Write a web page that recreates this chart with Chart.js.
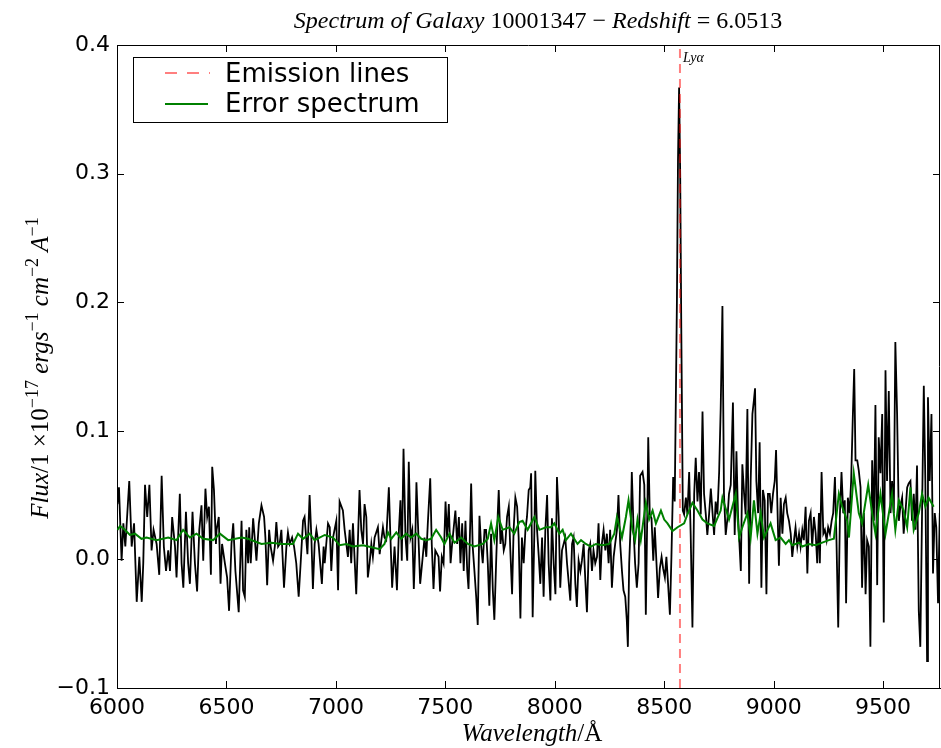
<!DOCTYPE html>
<html>
<head>
<meta charset="utf-8">
<script src="https://cdn.jsdelivr.net/npm/chart.js@4.4.1/dist/chart.umd.min.js"></script>
<style>
  html, body { margin: 0; padding: 0; background: #fff; }
</style>
</head>
<body>
<canvas id="spectrum" width="941" height="748"></canvas>
<script>
const wavelength = [
  6002,6009,6021,6029,6038,6056,6067,6078,6090,6102,6113,6120,6128,6138,6148,6158,6167,6181,6193,6204,
  6214,6224,6234,6242,6252,6265,6272,6287,6295,6303,6315,6325,6333,6345,6356,6366,6376,6386,6394,6404,
  6412,6420,6429,6435,6443,6452,
  6455,6465,6473,6480,6493,6503,6512,6523,6531,6541,6556,6569,6576,6584,6591,6599,6604,6611,6622,6629,
  6637,6648,6660,6672,6678,6686,6695,6702,6713,6721,6728,6736,6743,6751,6763,6774,6781,6789,6800,6809,
  6819,6830,6839,6850,6857,6870,6880,6888,6895,6903,6911,6921,6936,6944,
  6949,6956,6964,6972,6979,6987,7002,7010,7017,7032,7040,7055,7063,7070,7078,7093,7108,7116,7124,7131,
  7139,7146,7154,7162,7169,7177,7192,7200,7215,7222,7230,7242,7248,7257,7268,7279,7288,7295,7301,7309,
  7318,7326,7333,7341,7349,7356,7362,7368,7376,7385,7394,7405,
  7413,7420,7431,7438,7446,7454,7469,7476,7484,7492,7501,7508,7516,7524,7531,7546,7554,7562,7569,7577,
  7584,7592,7600,7606,7613,7618,7625,7633,7641,7648,7656,7663,7671,7679,7686,7694,7701,7709,7717,7724,
  7732,7739,7744,7752,7759,7767,7774,7782,7790,7797,7805,7812,7820,7828,7835,7843,7850,7858,7866,7873,
  7881,7888,
  7892,7899,7907,7911,7919,7927,7934,7942,7949,7957,7965,7972,7980,7987,7995,8003,8010,8018,8025,8033,
  8048,8056,8071,8079,8086,8094,8101,8109,8117,8124,8132,8139,8147,8155,8162,8170,8177,8185,8193,8200,
  8208,8215,8223,8231,8238,8246,8253,8261,8269,8276,8284,8291,8299,8307,8314,8322,8329,8334,8340,8348,
  8352,8360,8367,8375,8383,
  8390,8401,8409,8416,8424,8427,8434,8442,8450,8457,8465,8472,8480,8488,8495,8503,8510,8518,8526,8533,
  8541,8548,8558,8563,8568,8573,8578,8585,8591,8599,8606,8614,8621,8629,8637,8644,8652,8659,8667,8675,
  8682,8690,8697,8705,8713,8720,8728,8735,8743,8751,8758,8766,8773,8781,8789,8796,8804,8814,8822,8830,
  8837,
  8850,8857,8865,8872,8880,8888,8895,8903,8910,8915,8921,8929,8936,8944,8951,8959,8967,8974,8982,8989,
  8997,9005,9011,9018,9024,9032,9040,9047,9055,9062,9070,9078,9085,9093,9100,9108,9116,9123,9131,9138,
  9146,9154,9161,9169,9176,9184,9192,9199,9207,9211,9219,9227,9234,9242,9249,9257,9265,9272,9280,9287,
  9295,9303,9310,
  9318,9325,9331,9339,9347,9354,9362,9368,9374,9382,9389,9397,9404,9412,9420,9427,9435,9442,9450,9458,
  9465,9473,9480,9488,9496,9503,9511,9518,9526,9534,9541,9549,9556,9564,9572,9579,9587,9594,9602,9610,
  9617,9625,9632,9640,9648,9655,9663,9670,9678,9686,9693,9701,9705,9713,9721,9728,9736,9743,9751,9759
];
const flux = [
  0.043,0.056,-0.001,0.028,0.010,0.061,0.010,0.028,-0.033,0.002,-0.033,-0.003,0.058,0.033,0.058,0.007,0.023,0.012,-0.012,0.065,
  0.010,-0.009,0.007,-0.009,0.033,0.010,-0.014,0.051,-0.003,-0.022,0.037,-0.003,-0.019,0.037,-0.003,-0.025,0.023,0.042,-0.001,0.055,
  0.033,0.041,-0.012,0.072,0.054,0.012,
  0.023,0.033,-0.019,0.012,-0.003,-0.014,-0.040,0.012,0.028,-0.009,-0.041,0.030,-0.024,-0.029,0.023,-0.003,0.025,-0.003,0.032,0.017,
  -0.001,0.028,0.042,0.033,0.017,-0.020,0.023,0.010,-0.001,0.010,0.029,0.010,0.012,0.023,-0.022,0.010,0.021,0.012,0.017,0.010,
  -0.003,-0.029,-0.003,0.030,0.033,0.004,0.050,0.017,-0.023,0.012,0.023,0.012,-0.019,0.010,
  -0.003,0.012,0.028,0.025,-0.009,0.017,0.030,-0.024,0.045,0.038,0.023,0.002,0.023,-0.003,0.028,-0.027,0.054,0.023,0.012,0.043,
  0.033,-0.014,-0.003,0.012,0.002,0.017,0.025,0.004,0.025,0.017,0.015,0.056,0.023,-0.022,0.010,-0.024,0.023,0.046,-0.001,0.086,
  0.017,-0.001,0.076,0.017,0.023,-0.023,0.007,0.060,0.023,-0.019,-0.003,0.017,
  0.002,0.028,0.063,0.012,-0.023,0.007,0.002,-0.025,0.002,-0.003,0.045,0.017,0.043,-0.003,0.012,0.038,0.012,0.033,-0.003,0.028,
  -0.009,0.030,-0.009,-0.023,0.023,0.059,0.010,-0.009,-0.029,-0.051,0.034,0.012,-0.003,0.023,0.023,-0.003,-0.036,0.020,-0.024,-0.047,
  -0.003,0.033,0.054,0.012,0.023,0.007,0.012,0.033,0.041,0.007,-0.027,0.023,0.048,0.041,0.017,-0.046,0.017,-0.003,0.023,0.033,
  0.054,0.056,
  0.067,-0.045,0.023,0.069,0.023,0.002,-0.019,0.017,-0.029,0.023,0.050,-0.003,-0.032,0.032,-0.003,-0.027,0.064,0.033,-0.022,0.007,
  0.017,-0.003,-0.032,0.012,0.017,-0.019,-0.037,-0.001,-0.009,-0.001,0.012,-0.014,-0.041,0.007,0.012,-0.009,0.007,-0.003,0.002,0.028,
  -0.016,0.012,0.023,0.007,0.020,-0.003,0.023,-0.022,0.002,0.012,0.023,0.050,0.012,-0.009,-0.024,-0.029,-0.047,-0.068,-0.003,0.033,
  0.068,0.023,-0.003,-0.022,-0.003,
  0.065,0.068,0.058,-0.043,0.051,0.095,0.035,0.032,-0.001,0.025,-0.004,-0.030,-0.007,0.002,-0.007,-0.014,0.002,-0.020,-0.043,0.002,
  0.064,0.045,0.200,0.310,0.367,0.300,0.180,0.038,0.035,0.048,0.035,0.068,0.019,-0.053,0.051,0.079,0.045,0.068,0.035,0.115,
  0.051,0.035,0.019,0.035,0.055,0.038,0.019,0.045,0.035,0.068,0.117,0.197,0.051,0.019,0.032,0.051,0.058,0.122,0.019,0.084,
  0.035,
  -0.009,0.074,0.051,0.035,0.117,-0.019,0.061,0.113,0.124,0.133,0.061,0.036,0.091,-0.022,0.054,0.046,-0.027,0.051,0.051,0.036,
  0.051,0.061,0.085,0.036,-0.005,0.048,0.020,0.043,0.048,0.036,0.030,0.020,0.002,0.015,0.025,0.010,0.020,0.010,0.023,0.015,
  0.041,-0.011,0.030,0.036,0.010,0.033,0.020,-0.003,0.036,-0.003,0.068,0.020,0.023,0.015,0.025,0.020,0.030,0.036,0.064,0.015,
  -0.053,0.036,0.068,
  0.036,0.046,-0.034,0.048,0.036,0.061,0.113,0.148,0.077,0.077,0.069,0.056,-0.022,0.036,-0.027,0.015,0.010,-0.068,0.077,0.030,
  0.120,-0.020,0.095,0.067,0.113,-0.049,0.147,0.061,0.131,0.036,0.061,0.036,0.169,0.113,0.030,0.041,0.048,0.020,0.036,0.056,
  0.059,0.061,0.030,0.051,0.023,0.073,-0.040,-0.068,0.036,0.135,0.061,-0.079,0.126,0.061,0.113,-0.011,0.036,0.025,-0.034,0.036
];

// error spectrum
const errWavelength = [
  6002,6014,6036,6059,6082,6112,6135,6181,6234,6272,6302,6333,6363,6394,6439,6470,
  6508,6569,6599,6660,6705,6751,6804,6827,6850,6880,6903,6949,
  6987,7017,7048,7078,7124,7200,7222,7238,7253,7276,7298,7321,7344,7367,7390,7412,
  7435,7458,7481,7496,7519,7542,7572,7603,7633,7671,7694,7709,7724,7742,7762,7793,7815,7838,7853,7876,
  7907,7930,7960,7983,7998,8021,8036,8051,8074,8104,8120,8142,8165,8188,8218,8249,8272,8284,8307,8325,8337,8355,8367,
  8378,8393,8416,8431,8447,8462,8485,8500,8515,8538,8561,8591,8606,8629,8652,8675,8697,8728,8758,8766,8796,8827,
  8842,8857,8880,8895,8910,8926,8941,8956,8986,9009,9032,9055,9070,9085,9116,9131,9161,9192,9222,9252,9275,
  9298,9313,9336,9344,9366,9389,9404,9432,9450,9465,9488,9511,9541,9556,9572,9594,9610,9625,9640,9663,9678,9693,9708,9731
];
const errFlux = [
  0.023,0.026,0.023,0.019,0.020,0.016,0.017,0.015,0.017,0.015,0.023,0.017,0.020,0.016,0.015,0.020,
  0.015,0.017,0.016,0.012,0.013,0.012,0.012,0.020,0.016,0.020,0.015,0.019,
  0.017,0.011,0.012,0.010,0.011,0.008,0.012,0.021,0.016,0.021,0.016,0.020,0.017,0.020,0.016,0.015,
  0.016,0.023,0.017,0.012,0.020,0.013,0.017,0.012,0.010,0.012,0.016,0.028,0.015,0.033,0.023,0.025,0.020,0.029,0.030,0.023,
  0.033,0.023,0.025,0.025,0.028,0.020,0.023,0.015,0.020,0.012,0.015,0.012,0.010,0.012,0.011,0.012,0.020,0.033,0.017,0.033,0.046,0.023,0.015,
  0.031,0.015,0.044,0.031,0.038,0.028,0.038,0.031,0.028,0.022,0.025,0.028,0.035,0.044,0.038,0.031,0.028,0.026,0.038,0.048,0.031,0.051,
  0.017,0.025,0.036,0.017,0.046,0.020,0.036,0.017,0.028,0.015,0.017,0.012,0.015,0.011,0.013,0.010,0.012,0.011,0.013,0.015,0.016,
  0.051,0.041,0.030,0.017,0.067,0.036,0.028,0.058,0.036,0.020,0.051,0.020,0.051,0.023,0.046,0.038,0.025,0.056,0.023,0.036,0.051,0.041,0.048,0.041
];

const lineNames = ["Lyα"];
const lineWavelength = [8572];

const xTicks = [6000, 6500, 7000, 7500, 8000, 8500, 9000, 9500];
const yTicks = [-0.1, 0.0, 0.1, 0.2, 0.3, 0.4];

const pts = (xs, ys) => xs.map((x, i) => ({ x, y: ys[i] }));

// text runs: [text, style] where style is "i" (math italic), "r" (roman) or "sup"
function drawRuns(ctx, runs, x, y, size) {
  const fontFor = s => s === "i" ? `italic ${size}px "Liberation Serif"`
    : s === "sup" ? `${Math.round(size * 0.72)}px "Liberation Serif"`
    : `${size}px "Liberation Serif"`;
  let total = 0;
  runs.forEach(([t, s]) => { ctx.font = fontFor(s); total += ctx.measureText(t).width; });
  let cx = x - total / 2;
  ctx.textAlign = "left";
  ctx.textBaseline = "alphabetic";
  runs.forEach(([t, s]) => {
    ctx.font = fontFor(s);
    ctx.fillText(t, cx, s === "sup" ? y - size * 0.42 : y);
    cx += ctx.measureText(t).width;
  });
}

const frame = {
  id: "frame",
  afterDraw(chart) {
    const { ctx, chartArea: a, scales: { x, y } } = chart;
    ctx.save();
    ctx.strokeStyle = "#000";
    ctx.fillStyle = "#000";
    ctx.lineWidth = 1;

    // top and right spines
    ctx.beginPath();
    ctx.moveTo(a.left, a.top + 0.5);
    ctx.lineTo(a.right, a.top + 0.5);
    ctx.moveTo(a.right - 0.5, a.top);
    ctx.lineTo(a.right - 0.5, a.bottom);
    ctx.stroke();

    // inward ticks, matplotlib style
    ctx.beginPath();
    xTicks.forEach(v => {
      const px = Math.round(x.getPixelForValue(v)) + 0.5;
      ctx.moveTo(px, a.bottom); ctx.lineTo(px, a.bottom - 7);
      ctx.moveTo(px, a.top); ctx.lineTo(px, a.top + 7);
    });
    yTicks.forEach(v => {
      const py = Math.round(y.getPixelForValue(v)) + 0.5;
      ctx.moveTo(a.left, py); ctx.lineTo(a.left + 7, py);
      ctx.moveTo(a.right, py); ctx.lineTo(a.right - 7, py);
    });
    ctx.stroke();

    // emission line names
    ctx.font = 'italic 14px "Liberation Serif"';
    ctx.textAlign = "left";
    ctx.textBaseline = "alphabetic";
    lineNames.forEach((n, i) => {
      ctx.fillText(n, x.getPixelForValue(lineWavelength[i]) + 3, 62);
    });

    // legend
    ctx.fillStyle = "#fff";
    ctx.fillRect(133.5, 57.5, 314, 65);
    ctx.strokeRect(133.5, 57.5, 314, 65);
    ctx.lineWidth = 2;
    ctx.strokeStyle = "rgba(255,0,0,0.5)";
    ctx.setLineDash([12, 10]);
    ctx.beginPath(); ctx.moveTo(165, 73); ctx.lineTo(210, 73); ctx.stroke();
    ctx.setLineDash([]);
    ctx.strokeStyle = "#008000";
    ctx.beginPath(); ctx.moveTo(165, 104); ctx.lineTo(208, 104); ctx.stroke();
    ctx.fillStyle = "#000";
    ctx.font = '26px "DejaVu Sans"';
    ctx.fillText("Emission lines", 225, 82);
    ctx.fillText("Error spectrum", 225, 112);

    // title
    drawRuns(ctx, [["Spectrum of Galaxy ", "i"], ["10001347 − ", "r"], ["Redshift", "i"], [" = 6.0513", "r"]], 538, 28, 24);

    // x label
    drawRuns(ctx, [["Wavelength", "i"], ["/Å", "r"]], 532, 741, 25);

    // y label
    ctx.save();
    ctx.translate(48, 368);
    ctx.rotate(-Math.PI / 2);
    drawRuns(ctx, [["Flux", "i"], ["/1 ×10", "r"], ["−17", "sup"], [" ergs", "i"], ["−1", "sup"],
      [" cm", "i"], ["−2", "sup"], [" A", "i"], ["−1", "sup"]], 0, 0, 25);
    ctx.restore();

    ctx.restore();
  }
};

new Chart(document.getElementById("spectrum"), {
  type: "line",
  data: {
    datasets: [
      {
        label: "Spectrum",
        data: pts(wavelength, flux),
        borderColor: "#000",
        borderWidth: 1.8,
        pointRadius: 0,
        tension: 0,
        order: 3,
      },
      {
        label: "Error spectrum",
        data: pts(errWavelength, errFlux),
        borderColor: "#008000",
        borderWidth: 2,
        pointRadius: 0,
        tension: 0,
        order: 2,
      },
      {
        label: "Emission lines",
        data: lineWavelength.flatMap(w => [{ x: w, y: yTicks[0] }, { x: w, y: yTicks[yTicks.length - 1] }]),
        borderColor: "rgba(255,0,0,0.5)",
        borderDash: [9, 6],
        borderWidth: 2,
        pointRadius: 0,
        order: 1,
      },
    ],
  },
  options: {
    responsive: false,
    animation: false,
    layout: { padding: { top: 45, right: 1, left: 0, bottom: 0 } },
    plugins: { legend: { display: false }, tooltip: { enabled: false } },
    scales: {
      x: {
        type: "linear",
        min: 6000,
        max: 9760,
        afterFit: s => { s.height = 60; },
        afterBuildTicks: s => { s.ticks = xTicks.map(v => ({ value: v })); },
        grid: { display: false, drawTicks: false },
        border: { display: true, color: "#000", width: 1 },
        ticks: {
          color: "#000",
          autoSkip: false,
          maxRotation: 0,
          padding: 7,
          font: { family: "DejaVu Sans", size: 22 },
          callback: v => String(v),
        },
      },
      y: {
        type: "linear",
        min: -0.1,
        max: 0.4,
        afterFit: s => { s.width = 117; },
        afterBuildTicks: s => { s.ticks = yTicks.map(v => ({ value: v })); },
        grid: { display: false, drawTicks: false },
        border: { display: true, color: "#000", width: 1 },
        ticks: {
          color: "#000",
          padding: 7,
          font: { family: "DejaVu Sans", size: 22 },
          callback: v => v.toFixed(1).replace("-", "−"),
        },
      },
    },
  },
  plugins: [frame],
});
</script>
</body>
</html>
